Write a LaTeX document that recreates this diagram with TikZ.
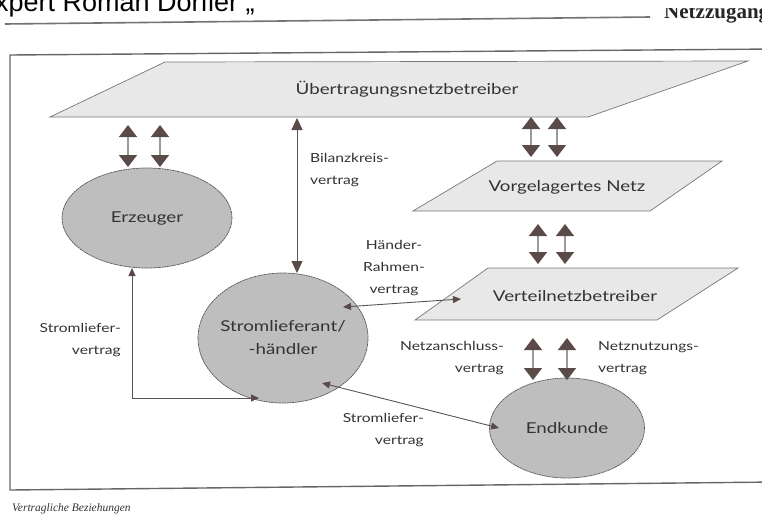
\documentclass[tikz,border=0pt]{standalone}
\usepackage{fontspec}
\setmainfont{Lato}[FakeStretch=1.25]
\newfontfamily\headfont{Liberation Sans}
\newfontfamily\capfont{Liberation Serif}
\usetikzlibrary{arrows.meta,shapes.geometric}
\definecolor{tipc}{HTML}{5A4A48}
\definecolor{shaftc}{HTML}{9A9A9A}
\definecolor{ellfill}{HTML}{BEBEBE}
\definecolor{parfill}{HTML}{E8E8E8}
\definecolor{linec}{HTML}{555555}
\begin{document}
\begin{tikzpicture}[x=1pt,y=-1pt,
  bigtip/.tip={Triangle[width=18pt,length=12pt,color=tipc,fill=tipc]},
  smalltip/.tip={Triangle[width=7pt,length=8pt,color=tipc,fill=tipc]},
  dblarrow/.style={draw=shaftc,line width=1.3pt,{bigtip}-{bigtip}},
  contract/.style={draw=linec,line width=0.9pt,{smalltip}-{smalltip}},
  plane/.style={draw=linec!80,line width=0.7pt,fill=parfill},
  actor/.style={ellipse,draw=linec,line width=0.7pt,dash pattern=on 2pt off 0.6pt,fill=ellfill,inner sep=0pt},
  lbl/.style={font=\fontsize{15}{23}\selectfont,text=black!80},
  slbl/.style={font=\fontsize{12.5}{22}\selectfont,text=black!80,align=left,inner sep=0pt}
  ]
\useasboundingbox (0,0) rectangle (762,520);
% header
\begin{scope}
\clip (0,0) rectangle (762,520);
\node[font=\headfont\fontsize{27}{29}\selectfont,anchor=base west,inner sep=0pt] (hdr) at (-5,11) {xpert Roman Dörfler „};
\coordinate (hl1) at (5,24);
\coordinate (hl2) at (650,17);
\draw[draw=black!55,line width=1.6pt] (hl1) -- (hl2);
% frame
\coordinate (f1) at (10,55);
\coordinate (f2) at (775,49);
\coordinate (f3) at (775,482);
\coordinate (f4) at (10,490);
\draw[draw=black!60,line width=1.4pt] (f2) -- (f1) -- (f4) -- (f3);
\end{scope}
\begin{scope}
\clip (655,8) rectangle (762,30);
\node[font=\capfont\bfseries\fontsize{21}{22}\selectfont,anchor=base west,inner sep=0pt,text=black!85] (hdr2) at (664,18) {Netzzugang};
\end{scope}
\node[font=\capfont\itshape\fontsize{11.5}{12}\selectfont,anchor=base west,inner sep=0pt,text=black!80] (cap) at (12,511) {Vertragliche Beziehungen};
% planes
\draw[plane] (165,62) -- (748,61) -- (588,117) -- (50,117) -- cycle;
\node[lbl] (unb) at (407,89) {Übertragungsnetzbetreiber};
\draw[plane] (497,161) -- (722,161) -- (650,211) -- (413,211) -- cycle;
\node[lbl] (vn) at (567,187) {Vorgelagertes Netz};
\draw[plane] (488,268) -- (738,268) -- (657,320) -- (415,320) -- cycle;
\node[lbl] (vnb) at (575,296) {Verteilnetzbetreiber};
% actors
\node[actor,minimum width=170pt,minimum height=100pt] (erz) at (147,218) {};
\node[lbl] at (erz.center) {Erzeuger};
\node[actor,minimum width=170pt,minimum height=130pt] (sl) at (283,338) {};
\node[lbl,align=center] at (sl.center) {Stromlieferant/\\-händler};
\node[actor,minimum width=155pt,minimum height=100pt] (ek) at (567,428) {};
\node[lbl] at (ek.center) {Endkunde};
% double arrows
\coordinate (a1t) at (128,125); \coordinate (a1b) at (128,167);
\coordinate (a2t) at (160,125); \coordinate (a2b) at (160,167);
\draw[dblarrow] (a1t) -- (a1b);
\draw[dblarrow] (a2t) -- (a2b);
\coordinate (b1t) at (531,117); \coordinate (b1b) at (531,157);
\coordinate (b2t) at (557,117); \coordinate (b2b) at (557,157);
\draw[dblarrow] (b1t) -- (b1b);
\draw[dblarrow] (b2t) -- (b2b);
\coordinate (c1t) at (538,224); \coordinate (c1b) at (538,264);
\coordinate (c2t) at (565,224); \coordinate (c2b) at (565,264);
\draw[dblarrow] (c1t) -- (c1b);
\draw[dblarrow] (c2t) -- (c2b);
\coordinate (d1t) at (533,338); \coordinate (d1b) at (533,380);
\coordinate (d2t) at (567,338); \coordinate (d2b) at (567,380);
\draw[dblarrow] (d1t) -- (d1b);
\draw[dblarrow] (d2t) -- (d2b);
% Bilanzkreis
\coordinate (bk1) at (297,118);
\coordinate (bk2) at (297,273);
\draw[draw=linec,line width=0.9pt,{Triangle[width=11pt,length=12pt,color=tipc,fill=tipc]}-{Triangle[width=11pt,length=12pt,color=tipc,fill=tipc]}] (bk1) -- (bk2);
\node[slbl,anchor=west] (bkl) at (310,170) {Bilanzkreis-\\vertrag};
% Händler-Rahmenvertrag
\coordinate (hr1) at (343,307);
\coordinate (hr2) at (461,299);
\draw[contract] (hr1) -- (hr2);
\node[slbl,align=center] (hrl) at (394,268) {Händer-\\Rahmen-\\vertrag};
% Erzeuger - Stromlieferant
\coordinate (es1) at (132,268);
\coordinate (es2) at (132,398);
\coordinate (es3) at (259,398);
\draw[contract] (es1) -- (es2) -- (es3);
\node[slbl,align=right,anchor=east] (esl) at (121,340) {Stromliefer-\\vertrag};
% Stromlieferant - Endkunde
\coordinate (se1) at (322,383);
\coordinate (se2) at (499,428);
\draw[contract] (se1) -- (se2);
\node[slbl,align=right,anchor=east] (sel) at (424,430) {Stromliefer-\\vertrag};
% Netz labels
\node[slbl,align=right,anchor=east] (nal) at (504,358) {Netzanschluss-\\vertrag};
\node[slbl,align=left,anchor=west] (nnl) at (598,358) {Netznutzungs-\\vertrag};
\end{tikzpicture}
\end{document}
